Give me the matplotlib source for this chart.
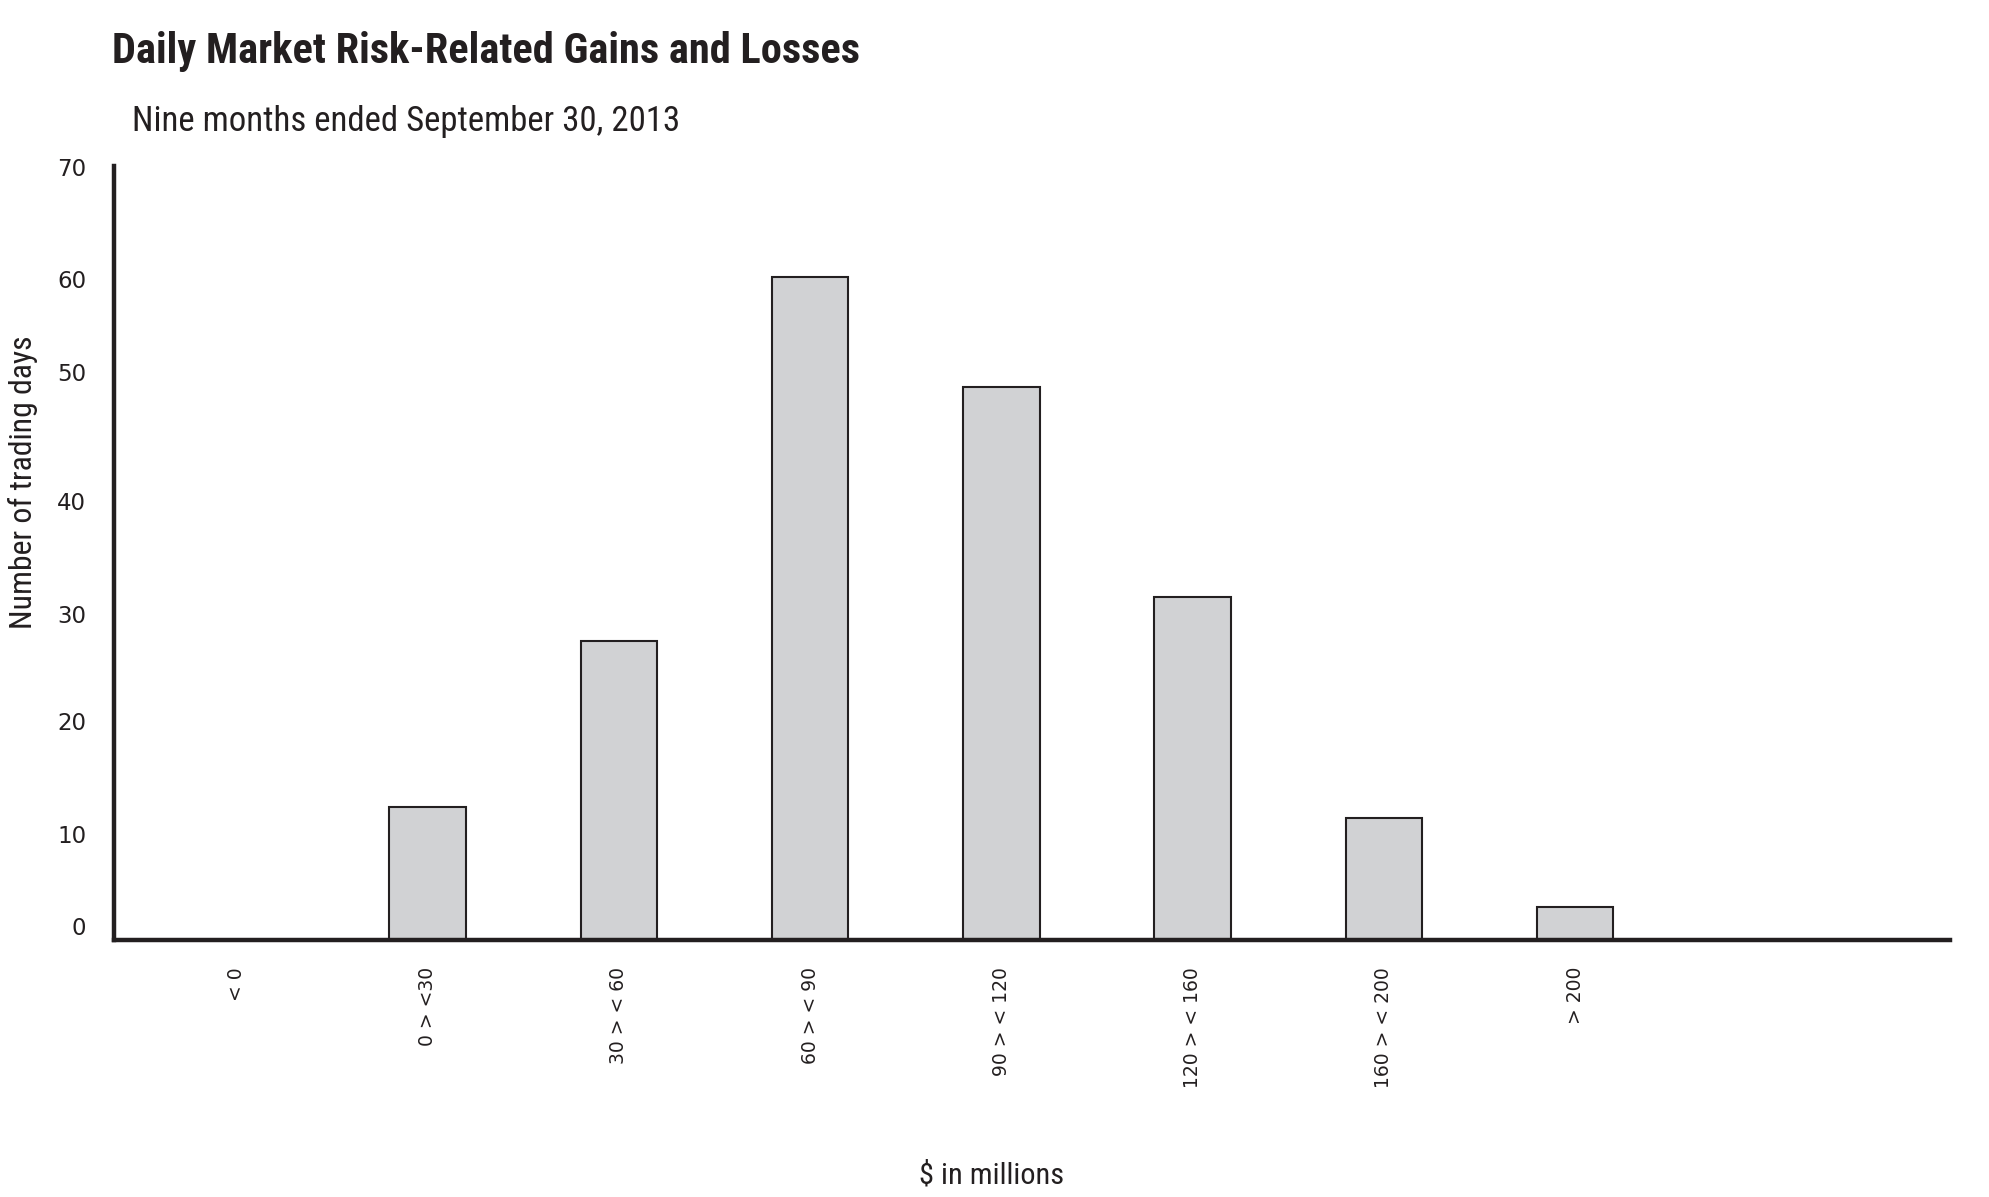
import matplotlib
matplotlib.use("Agg")
import matplotlib.pyplot as plt

categories = ["< 0", "0 > <30", "30 > < 60", "60 > < 90", "90 > < 120",
              "120 > < 160", "160 > < 200", "> 200"]
trading_days = [0, 12, 27, 60, 50, 31, 11, 3]
ytick_labels = ["0", "10", "20", "30", "40", "50", "60", "70"]
ytick_positions = [1.3, 9.6, 19.8, 29.5, 39.7, 51.4, 59.8, 69.9]

cond = "Roboto Condensed"
ink = "#231f20"

W, H = 1989, 1197
fig = plt.figure(figsize=(W / 100, H / 100), dpi=100)
ax = fig.add_axes([114 / W, 1 - 940 / H, (1950 - 114) / W, (940 - 166) / H])

x = list(range(len(categories)))
ax.bar(x, trading_days, width=0.40, color="#d1d2d4", edgecolor=ink, linewidth=1.5, zorder=2)

ax.set_xlim(-0.64, 8.96)
ax.set_ylim(0, 70)
for s in ["top", "right"]:
    ax.spines[s].set_visible(False)
for s in ["left", "bottom"]:
    ax.spines[s].set_linewidth(3.2)
    ax.spines[s].set_color(ink)
    ax.spines[s].set_zorder(3)

ax.set_yticks(ytick_positions)
ax.set_yticklabels(ytick_labels, fontsize=16.5, color=ink, family="DejaVu Sans")
ax.tick_params(axis="y", length=0, pad=20)
ax.set_xticks(x)
ax.set_xticklabels(categories, rotation=90, fontsize=13.5, color=ink, family="DejaVu Sans",
                   va="top", ha="center")
ax.tick_params(axis="x", length=0, pad=19.5)

fig.text(112 / W, 1 - 51 / H, "Daily Market Risk-Related Gains and Losses",
         fontsize=30.5, fontweight="bold", family=cond, color=ink, va="center", ha="left")
fig.text(132 / W, 1 - 121 / H, "Nine months ended September 30, 2013",
         fontsize=25, family=cond, color=ink, va="center", ha="left")
fig.text(23 / W, 1 - 482 / H, "Number of trading days", rotation=90,
         fontsize=22.9, family=cond, color=ink, va="center", ha="center")
fig.text(992 / W, 1 - 1176 / H, "$ in millions",
         fontsize=21.9, family=cond, color=ink, va="center", ha="center")

fig.savefig("out.png", dpi=100, facecolor="white")
